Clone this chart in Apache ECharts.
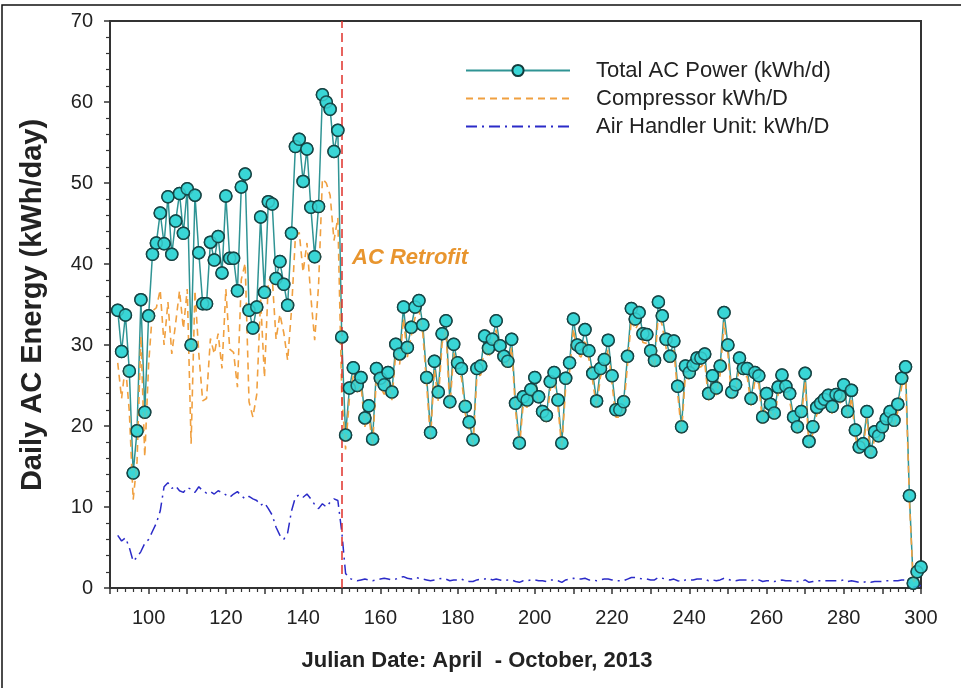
<!DOCTYPE html>
<html>
<head>
<meta charset="utf-8">
<script src="https://cdn.jsdelivr.net/npm/echarts@6/dist/echarts.min.js"></script>
<style>
html,body{margin:0;padding:0;background:#fff;}
#chart{width:961px;height:688px;}
</style>
</head>
<body>
<div id="chart"></div>
<script>
// Julian day of the first value in each series (one value per day)
const firstDay = 92;

const totalAC = [
  34.3, 29.2, 33.7, 26.8, 14.2, 19.4, 35.6, 21.7, 33.6, 41.2,
  42.6, 46.3, 42.5, 48.3, 41.2, 45.3, 48.7, 43.8, 49.3, 30.0,
  48.5, 41.4, 35.1, 35.1, 42.7, 40.5, 43.4, 38.9, 48.4, 40.7,
  40.7, 36.7, 49.5, 51.1, 34.3, 32.1, 34.7, 45.8, 36.5, 47.7,
  47.4, 38.2, 40.3, 37.5, 34.9, 43.8, 54.5, 55.4, 50.2, 54.2,
  47.0, 40.9, 47.1, 60.9, 60.0, 59.1, 53.9, 56.5, 31.0, 18.9,
  24.7, 27.2, 25.0, 26.0, 21.0, 22.5, 18.4, 27.1, 25.9, 25.1,
  26.6, 24.2, 30.1, 28.9, 34.7, 29.7, 32.2, 34.7, 35.5, 32.5,
  26.0, 19.2, 28.0, 24.2, 31.4, 33.0, 23.0, 30.1, 27.8, 27.1,
  22.4, 20.5, 18.3, 27.1, 27.4, 31.1, 29.6, 30.7, 33.0, 29.9,
  28.6, 28.0, 30.7, 22.8, 17.9, 23.6, 23.2, 24.5, 26.0, 23.6,
  21.8, 21.3, 25.5, 26.6, 23.2, 17.9, 25.9, 27.8, 33.2, 30.0,
  29.6, 31.9, 29.3, 26.5, 23.1, 27.1, 28.2, 30.6, 26.2, 22.0,
  22.0, 23.0, 28.6, 34.5, 33.2, 34.0, 31.4, 31.3, 29.3, 28.1,
  35.3, 33.6, 30.7, 28.6, 30.5, 24.9, 19.9, 27.4, 26.6, 27.5,
  28.4, 28.4, 28.9, 24.0, 26.2, 24.7, 27.4, 34.0, 30.0, 24.2,
  25.1, 28.4, 27.1, 27.1, 23.4, 26.6, 26.2, 21.1, 24.0, 22.7,
  21.6, 24.8, 26.3, 24.9, 24.0, 21.1, 19.9, 21.8, 26.5, 18.1,
  19.9, 22.3, 22.8, 23.3, 23.8, 22.4, 23.9, 23.7, 25.1, 21.8,
  24.4, 19.5, 17.4, 17.8, 21.8, 16.8, 19.3, 18.8, 19.9, 20.9,
  21.8, 20.7, 22.7, 25.9, 27.3, 11.4, 0.6, 2.0, 2.6
];

const compressor = [
  27.8, 23.4, 27.5, 21.8, 10.9, 15.6, 31.1, 16.2, 27.6, 34.2,
  34.6, 36.8, 30.0, 35.3, 28.9, 32.7, 36.7, 32.0, 36.9, 17.8,
  36.7, 28.9, 23.1, 23.4, 30.8, 28.9, 31.4, 27.1, 36.9, 29.5,
  29.1, 24.8, 38.1, 40.1, 23.0, 21.1, 23.9, 35.6, 26.0, 37.9,
  38.4, 30.7, 33.8, 31.5, 28.1, 34.3, 43.3, 43.9, 39.0, 42.6,
  36.0, 30.6, 37.3, 50.5, 50.0, 48.5, 42.9, 45.7, 24.0, 17.1,
  23.5, 26.2, 24.1, 25.0, 19.9, 21.5, 17.5, 26.1, 24.8, 23.9,
  25.5, 23.2, 29.0, 27.6, 33.3, 28.5, 31.1, 33.4, 34.3, 31.4,
  25.0, 18.3, 27.0, 23.1, 30.2, 31.9, 22.1, 29.1, 26.8, 26.0,
  21.5, 19.7, 17.5, 26.1, 26.3, 30.0, 28.4, 29.7, 31.9, 28.9,
  27.7, 27.0, 29.7, 22.0, 17.2, 22.7, 22.3, 23.5, 25.0, 22.7,
  20.9, 20.5, 24.5, 25.6, 22.3, 17.2, 24.9, 26.7, 32.0, 28.9,
  28.5, 30.7, 28.3, 25.5, 22.2, 26.1, 27.1, 29.5, 25.2, 21.1,
  21.1, 22.1, 27.5, 33.2, 31.9, 32.8, 30.3, 30.2, 28.3, 27.1,
  34.0, 32.4, 29.6, 27.6, 29.4, 24.0, 19.1, 26.4, 25.6, 26.5,
  27.3, 27.3, 27.8, 23.1, 25.2, 23.8, 26.4, 32.8, 28.9, 23.3,
  24.2, 27.4, 26.1, 26.1, 22.5, 25.6, 25.2, 20.3, 23.1, 21.8,
  20.8, 23.9, 25.3, 24.0, 23.1, 20.3, 19.1, 21.0, 25.5, 17.4,
  19.1, 21.4, 21.9, 22.4, 22.9, 21.5, 23.0, 22.8, 24.1, 21.0,
  23.5, 18.7, 16.7, 17.1, 21.0, 16.1, 18.5, 18.0, 19.1, 20.0,
  20.9, 19.8, 21.8, 24.9, 26.3, 10.8, 0.5, 1.8, 2.3
];

const airHandler = [
  6.5, 5.8, 6.2, 5.0, 3.3, 3.8, 4.5, 5.5, 6.0, 7.0,
  8.0, 9.5, 12.5, 13.0, 12.3, 12.6, 12.0, 11.8, 12.4, 12.2,
  11.8, 12.5, 12.0, 11.7, 11.9, 11.6, 12.0, 11.8, 11.5, 11.2,
  11.6, 11.9, 11.4, 11.0, 11.3, 11.0, 10.8, 10.2, 10.5, 9.8,
  9.0, 7.5, 6.5, 6.0, 6.8, 9.5, 11.2, 11.5, 11.2, 11.6,
  11.0, 10.3, 9.8, 10.4, 10.0, 10.6, 11.0, 10.8, 7.0, 1.8,
  1.2, 1.0, 0.9, 1.0, 1.1, 1.0, 0.9, 1.0, 1.1, 1.2,
  1.1, 1.0, 1.1, 1.3, 1.4, 1.2, 1.1, 1.3, 1.2, 1.1,
  1.0, 0.9, 1.0, 1.1, 1.2, 1.1, 0.9, 1.0, 1.0, 1.1,
  0.9, 0.8, 0.8, 1.0, 1.1, 1.1, 1.2, 1.0, 1.1, 1.0,
  0.9, 1.0, 1.0, 0.8, 0.7, 0.9, 0.9, 1.0, 1.0, 0.9,
  0.9, 0.8, 1.0, 1.0, 0.9, 0.7, 1.0, 1.1, 1.2, 1.1,
  1.1, 1.2, 1.0, 1.0, 0.9, 1.0, 1.1, 1.1, 1.0, 0.9,
  0.9, 0.9, 1.1, 1.3, 1.3, 1.2, 1.1, 1.1, 1.0, 1.0,
  1.3, 1.2, 1.1, 1.0, 1.1, 0.9, 0.8, 1.0, 1.0, 1.0,
  1.1, 1.1, 1.1, 0.9, 1.0, 0.9, 1.0, 1.2, 1.1, 0.9,
  0.9, 1.0, 1.0, 1.0, 0.9, 1.0, 1.0, 0.8, 0.9, 0.9,
  0.8, 0.9, 1.0, 0.9, 0.9, 0.8, 0.8, 0.8, 1.0, 0.7,
  0.8, 0.9, 0.9, 0.9, 0.9, 0.9, 0.9, 0.9, 1.0, 0.8,
  0.9, 0.8, 0.7, 0.7, 0.8, 0.7, 0.8, 0.8, 0.8, 0.9,
  0.9, 0.9, 0.9, 1.0, 1.0, 0.6, 0.1, 0.2, 0.3
];

const retrofitDay = 150;
const seriesNames = ['Total AC Power (kWh/d)', 'Compressor kWh/D', 'Air Handler Unit: kWh/D'];
const xTitle = 'Julian Date: April  - October, 2013';
const yTitle = 'Daily AC Energy (kWh/day)';
const annotation = 'AC Retrofit';

function pairs(arr) { return arr.map((v, i) => [firstDay + i, v]); }

const chart = echarts.init(document.getElementById('chart'), null, { renderer: 'canvas' });
const FONT = "'Liberation Sans', Arial, sans-serif";
const markerStyle = { color: '#3ad6d6', borderColor: '#123c3c', borderWidth: 1.5 };
const hiddenItem = { color: 'rgba(0,0,0,0)', borderColor: 'rgba(0,0,0,0)', borderWidth: 0 };

chart.setOption({
  animation: false,
  backgroundColor: '#ffffff',
  grid: { left: 110, right: 40, top: 21, bottom: 100, show: true, borderColor: '#333', borderWidth: 2 },
  legend: {
    orient: 'vertical', left: 460, top: 54,
    itemWidth: 104, itemHeight: 14, itemGap: 5,
    data: seriesNames,
    textStyle: { fontFamily: FONT, fontSize: 22, color: '#222', lineHeight: 23, padding: [0, 0, 0, 21] }
  },
  xAxis: {
    type: 'value', min: 90, max: 300, interval: 10,
    axisLine: { show: true, onZero: false, lineStyle: { color: '#333', width: 2 } },
    axisTick: { show: true, inside: false, length: 6, lineStyle: { color: '#333', width: 1.5 } },
    minorTick: { show: true, splitNumber: 5, length: 4, lineStyle: { color: '#333', width: 1.2 } },
    splitLine: { show: false },
    axisLabel: {
      margin: 20, fontFamily: FONT, fontSize: 20, color: '#222',
      formatter: v => (v % 20 === 0 ? String(v) : '')
    }
  },
  yAxis: {
    type: 'value', min: 0, max: 70, interval: 10,
    axisLine: { show: true, lineStyle: { color: '#333', width: 2 } },
    axisTick: { show: true, inside: false, length: 6, lineStyle: { color: '#333', width: 1.5 } },
    minorTick: { show: true, splitNumber: 5, length: 4, lineStyle: { color: '#333', width: 1.2 } },
    splitLine: { show: false },
    axisLabel: { margin: 17, fontFamily: FONT, fontSize: 20, color: '#222' }
  },
  series: [
    {
      name: seriesNames[0], type: 'line', data: pairs(totalAC),
      symbol: 'circle', symbolSize: 12, showSymbol: true,
      lineStyle: { color: '#2f9494', width: 1.5 },
      itemStyle: markerStyle, z: 2,
      markLine: {
        silent: true, symbol: 'none', label: { show: false },
        lineStyle: { color: '#e0302a', type: [9, 5], width: 1.5 },
        data: [{ xAxis: retrofitDay }]
      }
    },
    {
      name: seriesNames[1], type: 'line', data: pairs(compressor),
      symbol: 'none', itemStyle: hiddenItem,
      lineStyle: { color: '#f0a040', width: 1.6, type: [7, 5] }, z: 3
    },
    {
      name: seriesNames[2], type: 'line', data: pairs(airHandler),
      symbol: 'none', itemStyle: hiddenItem,
      lineStyle: { color: '#2b2bc8', width: 1.5, type: [11, 5, 2, 5] }, z: 3
    },
    {
      name: 'markers', type: 'scatter', data: pairs(totalAC),
      symbol: 'circle', symbolSize: 12, itemStyle: markerStyle, z: 5, silent: true
    }
  ],
  graphic: [
    { type: 'rect', shape: { x: 2, y: 5, width: 1000, height: 1000 },
      style: { fill: 'none', stroke: '#111', lineWidth: 1.5 }, silent: true },
    { type: 'text', x: 352, y: 258,
      style: { text: annotation, font: "italic bold 22px 'Liberation Sans', Arial, sans-serif",
               fill: '#e8952e', textAlign: 'left', textVerticalAlign: 'middle' } },
    { type: 'text', x: 477, y: 661,
      style: { text: xTitle, font: "bold 22px 'Liberation Sans', Arial, sans-serif",
               fill: '#222', textAlign: 'center', textVerticalAlign: 'middle' } },
    { type: 'text', x: 33, y: 305, rotation: Math.PI / 2,
      style: { text: yTitle, font: "bold 29px 'Liberation Sans', Arial, sans-serif",
               fill: '#222', textAlign: 'center', textVerticalAlign: 'middle' } }
  ]
});
</script>
</body>
</html>
